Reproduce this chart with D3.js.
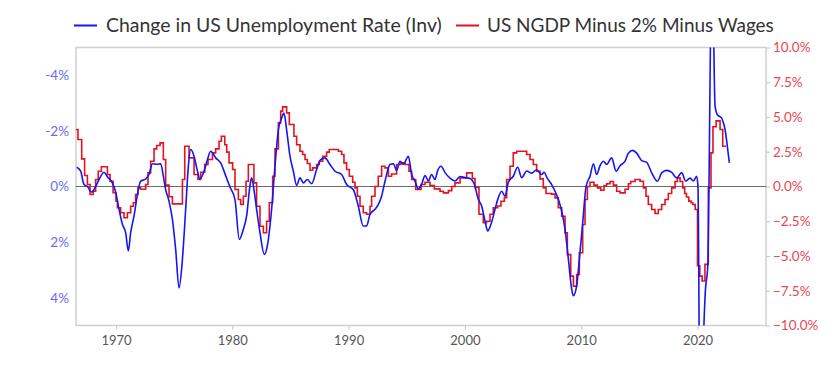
<!DOCTYPE html>
<html>
<head>
<meta charset="utf-8">
<script src="https://cdn.jsdelivr.net/npm/d3@7"></script>
<style>
  html, body { margin: 0; padding: 0; background: #fff; }
  svg { display: block; font-family: Lato, "Open Sans", sans-serif; }
</style>
</head>
<body>
<svg id="chart" width="840" height="367"></svg>
<script>
// ---------- DATA ----------
const legendLabels = ["Change in US Unemployment Rate (Inv)", "US NGDP Minus 2% Minus Wages"];
const xTickYears = [1970, 1980, 1990, 2000, 2010, 2020];
const leftTicks = [-4, -2, 0, 2, 4];
const rightTicks = [10, 7.5, 5, 2.5, 0, -2.5, -5, -7.5, -10];

// Change in US unemployment rate (percentage points), plotted on inverted left axis
const blueYears = [
  1966.62,1966.96,1967.25,1967.54,1967.88,1968.25,1968.54,1968.97,1969.26,1969.69,1969.97,
  1970.26,1970.55,1970.83,1971.06,1971.26,1971.55,1971.84,1972.12,1972.55,1972.84,1973.13,
  1973.5,1973.84,1974.07,1974.27,1974.56,1974.85,1975.13,1975.42,1975.71,1975.99,1976.22,
  1976.42,1976.71,1976.94,1977.22,1977.57,1977.85,1978.14,1978.57,1979.0,1979.43,1979.8,
  1980.23,1980.6,1980.95,1981.23,1981.52,1981.66,1981.86,1982.09,1982.38,1982.75,1983.01,
  1983.38,1983.67,1983.96,1984.24,1984.44,1984.67,1984.96,1985.25,1985.53,1985.82,1986.11,
  1986.45,1986.82,1987.25,1987.6,1987.97,1988.4,1988.83,1989.4,1989.83,1990.4,1990.83,
  1991.26,1991.55,1991.84,1992.27,1992.55,1992.84,1993.13,1993.56,1993.85,1994.13,1994.42,
  1994.71,1995.14,1995.42,1995.71,1996.0,1996.28,1996.57,1996.86,1997.14,1997.43,1997.66,
  1997.95,1998.29,1998.72,1999.15,1999.58,2000.01,2000.44,2000.81,2001.16,2001.44,2001.73,
  2001.96,2002.24,2002.59,2002.87,2003.16,2003.45,2003.73,2004.16,2004.54,2004.88,2005.31,
  2005.74,2006.17,2006.6,2006.8,2007.09,2007.46,2007.75,2008.04,2008.32,2008.61,2008.9,
  2009.18,2009.33,2009.61,2009.84,2010.13,2010.42,2010.76,2011.05,2011.33,2011.62,2011.9,
  2012.19,2012.62,2013.0,2013.34,2013.77,2014.06,2014.43,2014.77,2015.2,2015.63,2016.06,
  2016.55,2016.92,2017.35,2017.78,2018.21,2018.64,2018.98,2019.36,2019.64,2019.93,2020.04,
  2020.25,2020.42,2020.67,2020.88,2021.25,2021.51,2021.71,2022.08,2022.22,2022.37,2022.55,
  2022.74
];
const blueValues = [
  -0.69,-0.55,-0.07,0.0,0.2,0.0,-0.25,-0.51,-0.35,-0.13,0.2,
  0.82,1.36,1.66,2.32,1.66,1.06,0.29,-0.19,-0.27,-0.43,-0.82,
  -0.8,-0.82,-0.37,0.11,0.53,1.18,2.26,3.65,2.62,0.82,-0.73,
  -1.33,-1.09,-0.67,-0.27,-0.55,-0.95,-1.27,-1.03,-0.85,-0.39,0.02,
  0.47,1.9,1.54,1.06,-0.03,-0.31,0.1,0.82,1.66,2.44,2.14,
  0.82,-0.73,-2.04,-2.46,-2.64,-2.04,-1.09,-0.55,-0.04,-0.31,-0.13,
  -0.25,-0.1,-0.61,-0.97,-1.03,-0.79,-0.55,-0.43,-0.07,0.11,0.7,
  1.42,1.42,1.0,0.82,0.65,0.35,-0.19,-0.79,-0.82,-0.58,-0.91,
  -0.8,-1.09,-0.43,-0.19,0.08,-0.08,-0.39,-0.2,-0.43,-0.25,-0.58,
  -0.73,-0.5,-0.3,-0.2,-0.36,-0.32,-0.29,-0.08,0.47,0.7,1.24,
  1.6,1.36,0.82,0.41,0.17,0.35,-0.15,-0.37,-0.69,-0.32,-0.56,
  -0.48,-0.6,-0.43,-0.51,-0.29,-0.07,0.17,0.47,0.88,1.54,2.62,
  3.69,3.93,3.57,2.62,1.3,0.0,-0.37,-0.82,-0.43,-0.75,-0.91,
  -0.8,-1.03,-0.55,-0.75,-0.91,-1.2,-1.3,-1.2,-0.93,-0.87,-0.49,
  -0.19,-0.49,-0.58,-0.51,-0.31,-0.5,-0.2,-0.3,-0.2,-0.37,0.0,
  11.0,7.0,3.8,2.86,-8.5,-2.9,-2.58,-2.46,-2.3,-2.05,-1.5,
  -0.85
];

// US NGDP minus 2% minus wages (%), quarterly steps on right axis
const redYears = [
  1966.5,1966.73,1967.05,1967.3,1967.54,1967.77,1968.03,1968.25,1968.47,1968.74,1969.26,
  1969.49,1969.75,1970.0,1970.12,1970.4,1970.69,1970.98,1971.26,1971.49,1971.69,1971.89,
  1972.12,1972.55,1972.75,1972.98,1973.27,1973.5,1973.79,1974.07,1974.27,1974.56,1974.85,
  1975.71,1975.91,1976.28,1976.71,1977.05,1977.28,1977.63,1977.91,1978.29,1978.57,1978.86,
  1979.06,1979.35,1979.52,1979.72,1980.03,1980.23,1980.52,1980.72,1980.95,1981.18,1981.38,
  1981.86,1982.09,1982.38,1982.67,1982.95,1983.18,1983.47,1983.67,1983.96,1984.16,1984.33,
  1984.67,1984.9,1985.3,1985.53,1985.82,1986.05,1986.25,1986.45,1986.68,1986.91,1987.25,
  1987.48,1987.77,1988.11,1988.34,1989.12,1989.4,1989.6,1989.83,1990.06,1990.35,1990.55,
  1990.75,1990.98,1991.26,1991.55,1991.84,1991.98,1992.27,1992.55,1992.84,1993.13,1993.42,
  1993.7,1994.13,1994.5,1994.85,1995.19,1995.42,1995.77,1996.23,1996.57,1997.0,1997.37,
  1997.86,1998.15,1998.58,1998.87,1999.15,1999.58,2000.15,2000.64,2000.87,2001.21,2001.58,
  2001.87,2002.16,2002.44,2002.82,2003.1,2003.39,2003.59,2003.88,2004.16,2004.45,2005.31,
  2005.6,2005.88,2006.17,2006.46,2006.74,2006.97,2007.46,2007.75,2008.03,2008.32,2008.61,
  2008.81,2009.1,2009.33,2009.61,2009.84,2010.13,2010.33,2010.53,2010.76,2011.1,2011.39,
  2011.68,2011.96,2012.19,2012.48,2012.77,2013.05,2013.34,2013.77,2014.06,2014.26,2014.63,
  2015.06,2015.35,2015.57,2015.77,2016.06,2016.35,2016.63,2016.92,2017.21,2017.49,2017.78,
  2018.07,2018.27,2018.5,2018.73,2018.9,2019.05,2019.25,2019.45,2019.6,2019.8,2020.0,
  2020.2,2020.4,2020.64,2020.93,2021.16,2021.33,2021.6,2021.94,2022.17,2022.45
];
const redValues = [
  4.1,3.38,1.99,0.79,0.14,-0.58,-0.34,0.5,1.1,1.42,0.86,
  0.38,-0.45,-1.06,-1.53,-1.89,-2.25,-1.89,-1.42,-1.17,-0.58,-0.1,
  -0.2,0.14,0.98,1.82,2.71,2.95,3.14,1.94,0.1,-0.74,-1.25,
  0.5,2.9,2.06,0.86,0.5,1.03,1.58,1.94,2.42,2.71,3.26,
  3.62,3.0,2.47,1.7,1.22,-0.22,-0.94,-1.29,-0.7,0.38,1.58,
  0.26,-1.42,-2.86,-3.33,-2.5,-1.17,0.74,2.71,4.58,5.42,5.73,
  5.3,4.46,3.62,3.0,2.54,2.3,1.94,1.65,1.17,1.34,1.58,
  1.82,2.18,2.47,2.66,2.54,2.3,1.7,1.22,0.74,0.31,-0.1,
  -0.7,-1.42,-1.89,-2.0,-1.42,-0.7,0.0,0.74,1.46,1.34,0.74,
  0.9,1.58,1.7,1.58,1.1,0.5,-0.22,0.14,0.31,0.07,-0.17,
  -0.34,-0.46,-0.3,0.0,0.26,0.62,0.98,0.58,-0.07,-2.0,-2.6,
  -2.5,-2.0,-1.53,-1.4,-1.06,-0.8,0.5,1.46,2.42,2.54,2.3,
  1.94,1.58,1.1,0.55,-0.1,-0.5,-0.55,-0.82,-1.53,-2.14,-3.33,
  -4.9,-6.45,-7.17,-6.33,-4.77,-2.73,-0.94,0.0,0.31,0.1,-0.1,
  -0.27,0.07,0.2,0.36,0.1,-0.34,-0.46,-0.2,0.2,0.36,0.5,
  0.38,-0.1,-0.7,-1.29,-1.65,-1.94,-1.65,-1.29,-0.94,-0.5,-0.1,
  0.36,0.62,0.36,-0.1,-0.5,-0.75,-1.05,-1.17,-1.29,-1.65,-5.7,
  -6.45,-6.8,-5.6,-0.1,2.42,4.3,4.72,4.1,2.9,2.9
];

// ---------- CHART ----------
const svg = d3.select("#chart");
const L = 76, R = 766, T = 47.5, B = 325.5;

const x = d3.scaleLinear().domain([1966.56, 2025.89]).range([L, R]);
const yL = d3.scaleLinear().domain([-5, 5]).range([T, B]);
const yR = d3.scaleLinear().domain([-10, 10]).range([B, T]);

const blueColor = "#1515f5";
const redColor = "#e3121f";

svg.append("defs").append("clipPath").attr("id", "plotclip")
  .append("rect").attr("x", L).attr("y", T).attr("width", R - L).attr("height", B - T);

// frame
svg.append("rect").attr("x", L).attr("y", T).attr("width", R - L).attr("height", B - T)
  .attr("fill", "none").attr("stroke", "#d0d0d0").attr("stroke-width", 1.5);

// zero line
svg.append("line").attr("x1", L).attr("x2", R).attr("y1", yL(0)).attr("y2", yL(0))
  .attr("stroke", "#6b6b6b").attr("stroke-width", 1.2);

// bottom axis
const xAxis = svg.append("g").attr("transform", `translate(0,${B})`)
  .call(d3.axisBottom(x).tickValues(xTickYears).tickFormat(d3.format("d")).tickSize(4).tickPadding(6));
xAxis.select(".domain").remove();
xAxis.selectAll("line").attr("stroke", "#cccccc").attr("stroke-width", 1.2);
xAxis.selectAll("text").attr("fill", "#555").style("font-size", "13px").style("font-family", "Lato, sans-serif");

// left axis (inverted)
const yAxisL = svg.append("g").attr("transform", `translate(${L},0)`)
  .call(d3.axisLeft(yL).tickValues(leftTicks).tickFormat(d => d + "%").tickSize(0).tickPadding(7));
yAxisL.select(".domain").remove();
yAxisL.selectAll("text").attr("fill", "#6a6af0").style("font-size", "13.5px").style("font-family", "Lato, sans-serif");

// right axis
const yAxisR = svg.append("g").attr("transform", `translate(${R},0)`)
  .call(d3.axisRight(yR).tickValues(rightTicks).tickFormat(d => d3.format(".1f")(d) + "%").tickSize(4).tickPadding(3));
yAxisR.select(".domain").remove();
yAxisR.selectAll("line").attr("stroke", "#cccccc").attr("stroke-width", 1.2);
yAxisR.selectAll("text").attr("fill", "#e84652").style("font-size", "13.5px").style("font-family", "Lato, sans-serif");

// series
const lines = svg.append("g").attr("clip-path", "url(#plotclip)");

const redData = redYears.map((t, i) => [t, redValues[i]]);
lines.append("path")
  .attr("d", d3.line().x(d => x(d[0])).y(d => yR(d[1])).curve(d3.curveStepAfter)(redData))
  .attr("fill", "none").attr("stroke", redColor).attr("stroke-width", 1.6);

const blueData = blueYears.map((t, i) => [t, blueValues[i]]);
lines.append("path")
  .attr("d", d3.line().x(d => x(d[0])).y(d => yL(d[1])).curve(d3.curveMonotoneX)(blueData))
  .attr("fill", "none").attr("stroke", blueColor).attr("stroke-width", 1.6);

// legend
const legend = svg.append("g");
const legItems = [
  { label: legendLabels[0], color: blueColor, x0: 74, tx: 106, w: 336 },
  { label: legendLabels[1], color: redColor, x0: 456, tx: 487, w: 287 }
];
legItems.forEach(it => {
  legend.append("line").attr("x1", it.x0).attr("x2", it.x0 + 23).attr("y1", 25.5).attr("y2", 25.5)
    .attr("stroke", it.color).attr("stroke-width", 2);
  const t = legend.append("text").attr("x", it.tx).attr("y", 25.5).attr("dy", "0.35em")
    .attr("fill", "#333").style("font-size", "18px").style("font-family", "Lato, sans-serif")
    .text(it.label);
  const len = t.node().getComputedTextLength();
  if (len > 0) t.style("font-size", (18 * it.w / len).toFixed(2) + "px");
});
</script>
</body>
</html>
